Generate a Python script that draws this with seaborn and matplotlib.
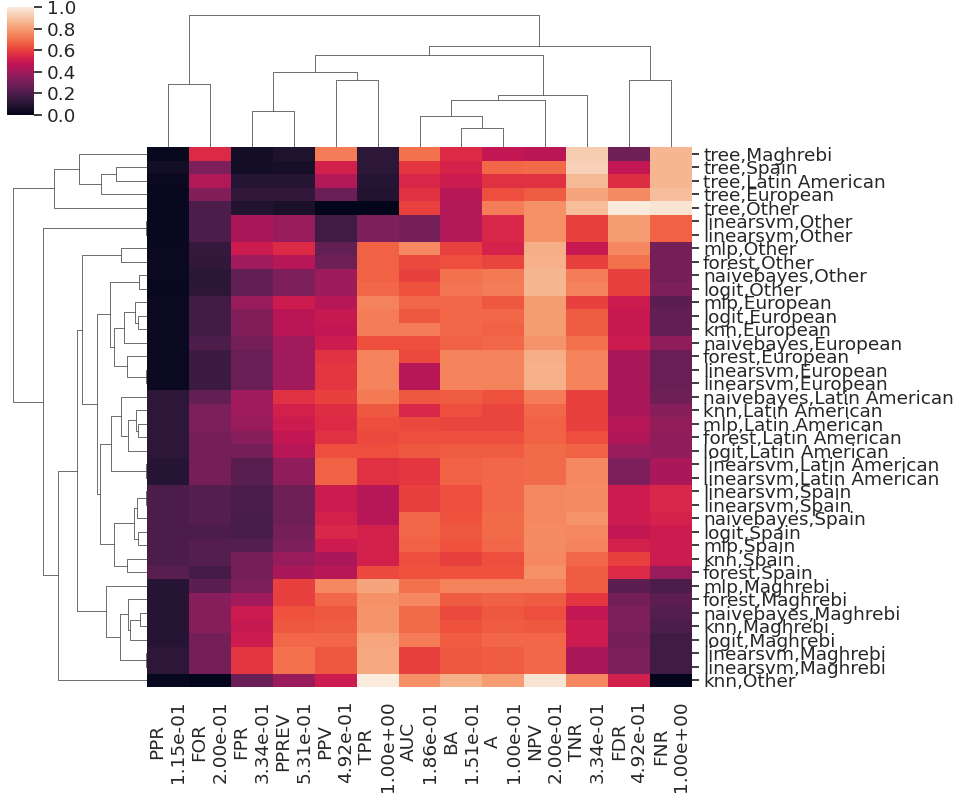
import numpy as np
import pandas as pd
import seaborn as sns
import matplotlib
matplotlib.use("Agg")
import matplotlib.pyplot as plt

sns.set_theme(style="ticks")
plt.rcParams["font.family"] = ["DejaVu Sans"]

metrics = ["PPR", "FOR", "FPR", "PPREV", "PPV", "TPR", "AUC",
           "BA", "A", "NPV", "TNR", "FDR", "FNR"]
metric_values = ["1.15e-01", "2.00e-01", "3.34e-01", "5.31e-01", "4.92e-01",
                 "1.00e+00", "1.86e-01", "1.51e-01", "1.00e-01", "2.00e-01",
                 "3.34e-01", "4.92e-01", "1.00e+00"]

groups = ["tree,Maghrebi", "tree,Spain", "tree,Latin American", "tree,European",
          "tree,Other", "linearsvm,Other", "linearsvm,Other", "mlp,Other",
          "forest,Other", "naivebayes,Other", "logit,Other", "mlp,European",
          "logit,European", "knn,European", "naivebayes,European",
          "forest,European", "linearsvm,European", "linearsvm,European",
          "naivebayes,Latin American", "knn,Latin American",
          "mlp,Latin American", "forest,Latin American",
          "logit,Latin American", "linearsvm,Latin American",
          "linearsvm,Latin American", "linearsvm,Spain", "linearsvm,Spain",
          "naivebayes,Spain", "logit,Spain", "mlp,Spain", "knn,Spain",
          "forest,Spain", "mlp,Maghrebi", "forest,Maghrebi",
          "naivebayes,Maghrebi", "knn,Maghrebi", "logit,Maghrebi",
          "linearsvm,Maghrebi", "linearsvm,Maghrebi", "knn,Other"]

# one row per group, columns in the order of `metrics`
values = [
    [0.02, 0.55, 0.05, 0.08, 0.73, 0.12, 0.70, 0.55, 0.48, 0.46, 0.92, 0.28, 0.86],
    [0.05, 0.32, 0.05, 0.06, 0.52, 0.12, 0.58, 0.53, 0.68, 0.69, 0.93, 0.48, 0.86],
    [0.03, 0.44, 0.10, 0.10, 0.44, 0.10, 0.54, 0.50, 0.57, 0.57, 0.87, 0.56, 0.86],
    [0.02, 0.33, 0.13, 0.13, 0.27, 0.09, 0.57, 0.45, 0.63, 0.66, 0.82, 0.76, 0.88],
    [0.02, 0.20, 0.09, 0.07, 0.00, 0.00, 0.60, 0.44, 0.73, 0.77, 0.88, 1.00, 0.98],
    [0.02, 0.20, 0.42, 0.38, 0.17, 0.32, 0.30, 0.44, 0.54, 0.77, 0.60, 0.80, 0.67],
    [0.02, 0.20, 0.42, 0.38, 0.17, 0.32, 0.30, 0.44, 0.54, 0.77, 0.60, 0.80, 0.67],
    [0.03, 0.14, 0.50, 0.55, 0.25, 0.67, 0.75, 0.60, 0.53, 0.84, 0.49, 0.75, 0.30],
    [0.03, 0.13, 0.40, 0.45, 0.28, 0.67, 0.62, 0.63, 0.61, 0.85, 0.60, 0.70, 0.30],
    [0.03, 0.11, 0.25, 0.32, 0.39, 0.67, 0.60, 0.70, 0.72, 0.86, 0.73, 0.60, 0.30],
    [0.02, 0.12, 0.25, 0.32, 0.39, 0.68, 0.64, 0.71, 0.73, 0.86, 0.74, 0.60, 0.32],
    [0.03, 0.17, 0.38, 0.50, 0.45, 0.74, 0.68, 0.68, 0.65, 0.80, 0.60, 0.50, 0.24],
    [0.03, 0.17, 0.33, 0.46, 0.49, 0.73, 0.65, 0.68, 0.68, 0.80, 0.66, 0.49, 0.25],
    [0.03, 0.17, 0.33, 0.46, 0.48, 0.73, 0.73, 0.68, 0.67, 0.80, 0.66, 0.49, 0.25],
    [0.03, 0.20, 0.30, 0.40, 0.50, 0.63, 0.63, 0.67, 0.68, 0.78, 0.70, 0.50, 0.36],
    [0.03, 0.16, 0.27, 0.40, 0.57, 0.74, 0.62, 0.74, 0.74, 0.84, 0.74, 0.42, 0.27],
    [0.03, 0.16, 0.27, 0.40, 0.58, 0.74, 0.45, 0.74, 0.74, 0.85, 0.74, 0.42, 0.27],
    [0.03, 0.16, 0.27, 0.40, 0.58, 0.74, 0.45, 0.74, 0.74, 0.85, 0.74, 0.42, 0.27],
    [0.12, 0.25, 0.40, 0.57, 0.60, 0.72, 0.65, 0.66, 0.64, 0.73, 0.60, 0.42, 0.28],
    [0.12, 0.32, 0.40, 0.52, 0.56, 0.65, 0.54, 0.63, 0.61, 0.68, 0.60, 0.42, 0.34],
    [0.12, 0.32, 0.38, 0.50, 0.55, 0.63, 0.62, 0.61, 0.61, 0.67, 0.60, 0.45, 0.37],
    [0.12, 0.30, 0.34, 0.48, 0.57, 0.62, 0.63, 0.63, 0.63, 0.67, 0.63, 0.43, 0.36],
    [0.12, 0.30, 0.30, 0.45, 0.63, 0.63, 0.65, 0.66, 0.66, 0.69, 0.67, 0.38, 0.36],
    [0.10, 0.30, 0.23, 0.36, 0.67, 0.57, 0.58, 0.67, 0.68, 0.69, 0.75, 0.32, 0.42],
    [0.10, 0.30, 0.23, 0.36, 0.67, 0.57, 0.58, 0.67, 0.68, 0.69, 0.75, 0.32, 0.42],
    [0.20, 0.22, 0.20, 0.28, 0.50, 0.45, 0.60, 0.63, 0.68, 0.75, 0.76, 0.50, 0.54],
    [0.20, 0.22, 0.20, 0.28, 0.50, 0.45, 0.60, 0.63, 0.68, 0.75, 0.76, 0.50, 0.54],
    [0.20, 0.22, 0.19, 0.28, 0.52, 0.45, 0.68, 0.64, 0.69, 0.75, 0.78, 0.50, 0.53],
    [0.20, 0.20, 0.19, 0.30, 0.54, 0.52, 0.68, 0.65, 0.69, 0.76, 0.75, 0.48, 0.50],
    [0.20, 0.22, 0.22, 0.32, 0.50, 0.52, 0.67, 0.64, 0.68, 0.76, 0.74, 0.52, 0.50],
    [0.20, 0.22, 0.30, 0.38, 0.42, 0.52, 0.63, 0.60, 0.63, 0.75, 0.68, 0.60, 0.50],
    [0.23, 0.18, 0.30, 0.42, 0.45, 0.62, 0.64, 0.64, 0.64, 0.77, 0.66, 0.55, 0.38],
    [0.10, 0.24, 0.32, 0.60, 0.75, 0.82, 0.70, 0.74, 0.74, 0.74, 0.66, 0.24, 0.20],
    [0.10, 0.34, 0.40, 0.60, 0.68, 0.77, 0.75, 0.66, 0.67, 0.66, 0.58, 0.30, 0.24],
    [0.10, 0.34, 0.50, 0.64, 0.65, 0.78, 0.69, 0.62, 0.65, 0.63, 0.48, 0.32, 0.22],
    [0.10, 0.34, 0.49, 0.65, 0.66, 0.78, 0.69, 0.64, 0.66, 0.65, 0.50, 0.32, 0.20],
    [0.10, 0.30, 0.50, 0.68, 0.68, 0.82, 0.73, 0.66, 0.68, 0.68, 0.50, 0.30, 0.17],
    [0.12, 0.30, 0.58, 0.70, 0.65, 0.83, 0.60, 0.65, 0.66, 0.68, 0.42, 0.32, 0.17],
    [0.12, 0.30, 0.58, 0.70, 0.65, 0.83, 0.60, 0.65, 0.66, 0.68, 0.42, 0.32, 0.17],
    [0.02, 0.00, 0.27, 0.38, 0.50, 1.00, 0.77, 0.85, 0.80, 0.98, 0.75, 0.52, 0.00],
]

# merge trees: (left, right, merge height)
col_tree = ((0, 1, 187),
            ((((2, 3, 107), (4, 5, 199), 222),
              (((6, (7, 8, 57), 92), 9, 140), 10, 154), 272),
             (11, 12, 199), 300),
            393)

tree_G = ((9, 10, 23),
          (((11, (12, 13, 27), 37), 14, 70), (15, (16, 17, 2), 60), 100),
          110)
tree_H = (((18, ((19, (20, 21, 27), 32), 22, 57), 78), (23, 24, 2), 107),
          ((((25, 26, 2), 27, 30), (28, 29, 27), 40), (30, 31, 60), 98),
          140)
tree_E = (32, ((33, ((34, 35, 20), 36, 50), 57), (37, 38, 2), 80), 122)
row_tree = (((0, ((1, 2, 93), 3, 137), 202), 4, 278),
            ((5, 6, 2),
             (((((7, 8, 78), (tree_G, tree_H, 150), 195), tree_E, 210), 39, 265)),
             310),
            400)


def to_linkage(tree, n):
    rows = []

    def walk(node):
        if isinstance(node, int):
            return node, 1
        left, right, h = node
        a, ca = walk(left)
        b, cb = walk(right)
        rows.append([a, b, h, ca + cb])
        return n + len(rows) - 1, ca + cb

    walk(tree)
    return np.array(rows, dtype=float)


col_labels = [f"{m}\n{v}" for m, v in zip(metrics, metric_values)]
df = pd.DataFrame(values, index=groups, columns=col_labels)

g = sns.clustermap(df,
                   row_linkage=to_linkage(row_tree, len(groups)),
                   col_linkage=to_linkage(col_tree, len(metrics)),
                   cmap="rocket", figsize=(9.6, 7.93),
                   xticklabels=True, yticklabels=True)

W, H = 960, 793
g.ax_heatmap.set_position([147 / W, 106 / H, 545 / W, 540 / H])
g.ax_row_dendrogram.set_position([6.6 / W, 106 / H, 140.4 / W, 540 / H])
g.ax_col_dendrogram.set_position([147 / W, 646 / H, 545 / W, 139 / H])
g.ax_cbar.set_position([7 / W, 678 / H, 27 / W, 108 / H])

fs = 13.3
g.ax_heatmap.tick_params(axis="x", length=0, pad=9.5, labelsize=fs)
g.ax_heatmap.tick_params(axis="y", length=5, pad=3, labelsize=fs)
plt.setp(g.ax_heatmap.get_xticklabels(), rotation=90)
plt.setp(g.ax_heatmap.get_yticklabels(), rotation=0)
g.ax_heatmap.set_xlabel("")
g.ax_heatmap.set_ylabel("")

g.ax_row_dendrogram.tick_params(axis="y", direction="in", length=5, color=".6")
g.ax_col_dendrogram.tick_params(axis="x", direction="in", length=4, color=".6")

g.ax_cbar.set_yticks([0.0, 0.2, 0.4, 0.6, 0.8, 1.0])
g.ax_cbar.tick_params(labelsize=fs)

g.figure.savefig("out.png", dpi=100)
